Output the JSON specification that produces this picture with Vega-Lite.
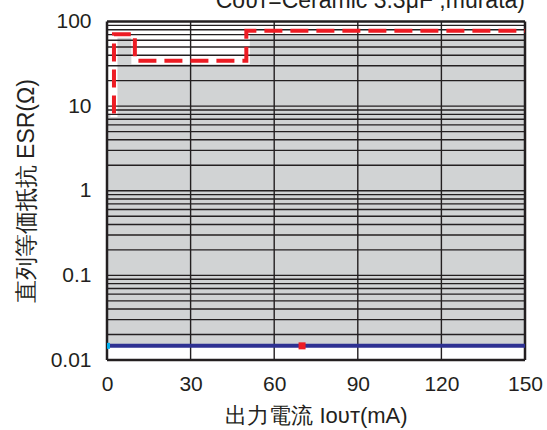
{
  "$schema": "https://vega.github.io/schema/vega-lite/v6.json",
  "width": 418,
  "height": 338.5,
  "autosize": "none",
  "padding": {"left": 107, "top": 21.5, "right": 22, "bottom": 70},
  "background": "white",
  "config": {"view": {"stroke": null}, "font": "Liberation Sans"},
  "title": {
    "text": "Cᴏᴜᴛ=Ceramic 3.3μF ,murata)",
    "anchor": "end",
    "frame": "group",
    "fontSize": 23,
    "fontWeight": "normal",
    "color": "#231f20",
    "baseline": "alphabetic",
    "offset": -20
  },
  "datasets": {
    "region": [
      {"I": 0, "ESR": 8.2, "ESR2": 0.0147},
      {"I": 2.5, "ESR": 70.6, "ESR2": 0.0147},
      {"I": 10, "ESR": 34.4, "ESR2": 0.0147},
      {"I": 50, "ESR": 77.9, "ESR2": 0.0147},
      {"I": 150, "ESR": 77.9, "ESR2": 0.0147}
    ],
    "limit": [
      {"k": 1, "I": 2.5, "ESR": 8.2},
      {"k": 2, "I": 2.5, "ESR": 70.6},
      {"k": 3, "I": 10, "ESR": 70.6},
      {"k": 4, "I": 10, "ESR": 34.4},
      {"k": 5, "I": 50, "ESR": 34.4},
      {"k": 6, "I": 50, "ESR": 77.9},
      {"k": 7, "I": 150, "ESR": 77.9}
    ],
    "hgrid": [
      {"ESR": 0.02}, {"ESR": 0.03}, {"ESR": 0.04}, {"ESR": 0.05}, {"ESR": 0.06}, {"ESR": 0.07}, {"ESR": 0.08}, {"ESR": 0.09},
      {"ESR": 0.1}, {"ESR": 0.2}, {"ESR": 0.3}, {"ESR": 0.4}, {"ESR": 0.5}, {"ESR": 0.6}, {"ESR": 0.7}, {"ESR": 0.8}, {"ESR": 0.9},
      {"ESR": 1}, {"ESR": 2}, {"ESR": 3}, {"ESR": 4}, {"ESR": 5}, {"ESR": 6}, {"ESR": 7}, {"ESR": 8}, {"ESR": 9},
      {"ESR": 10}, {"ESR": 20}, {"ESR": 30}, {"ESR": 40}, {"ESR": 50}, {"ESR": 60}, {"ESR": 70}, {"ESR": 80}, {"ESR": 90}
    ],
    "vgrid": [{"I": 30}, {"I": 60}, {"I": 90}, {"I": 120}],
    "hframe": [{"ESR": 0.01}, {"ESR": 100}],
    "vframe": [{"I": 0}, {"I": 150}],
    "minline": [{"I": 0, "ESR": 0.0147}, {"I": 150, "ESR": 0.0147}],
    "cyan": [{"I": 0, "ESR": 0.0147}],
    "red": [{"I": 70, "ESR": 0.0147}]
  },
  "layer": [
    {
      "data": {"name": "region"},
      "mark": {"type": "area", "interpolate": "step-after", "color": "#d1d3d4"},
      "encoding": {
        "x": {
          "field": "I", "type": "quantitative",
          "scale": {"domain": [0, 150], "nice": false, "zero": false},
          "axis": {
            "values": [0, 30, 60, 90, 120, 150],
            "grid": false, "ticks": false, "domain": false, "labelFlush": false,
            "labelFontSize": 21, "labelPadding": 13, "labelColor": "#231f20",
            "labelFont": "Liberation Sans",
            "title": "出力電流 Iᴏᴜᴛ(mA)",
            "titleFontSize": 22, "titleFontWeight": "normal", "titleColor": "#231f20",
            "titlePadding": 11, "titleFont": "Liberation Sans"
          }
        },
        "y": {
          "field": "ESR", "type": "quantitative",
          "scale": {"type": "log", "domain": [0.01, 100], "nice": false},
          "axis": {
            "values": [0.01, 0.1, 1, 10, 100],
            "format": "~g",
            "grid": false, "ticks": false, "domain": false, "labelFlush": false,
            "labelFontSize": 21, "labelPadding": 16, "labelColor": "#231f20",
            "labelFont": "Liberation Sans",
            "title": "直列等価抵抗 ESR(Ω)",
            "titleFontSize": 23, "titleFontWeight": "normal", "titleColor": "#231f20",
            "titlePadding": 12, "titleFont": "Liberation Sans"
          }
        },
        "y2": {"field": "ESR2"}
      }
    },
    {
      "data": {"name": "limit"},
      "mark": {"type": "line", "color": "white", "strokeWidth": 7, "strokeCap": "square"},
      "encoding": {
        "x": {"field": "I", "type": "quantitative"},
        "y": {"field": "ESR", "type": "quantitative"},
        "order": {"field": "k"}
      }
    },
    {
      "data": {"name": "hgrid"},
      "mark": {"type": "rule", "color": "#231f20", "strokeWidth": 1.4},
      "encoding": {"y": {"field": "ESR", "type": "quantitative"}}
    },
    {
      "data": {"name": "vgrid"},
      "mark": {"type": "rule", "color": "#231f20", "strokeWidth": 1.4},
      "encoding": {"x": {"field": "I", "type": "quantitative"}}
    },
    {
      "data": {"name": "hframe"},
      "mark": {"type": "rule", "color": "#231f20", "strokeWidth": 2.5},
      "encoding": {"y": {"field": "ESR", "type": "quantitative"}}
    },
    {
      "data": {"name": "vframe"},
      "mark": {"type": "rule", "color": "#231f20", "strokeWidth": 2.5},
      "encoding": {"x": {"field": "I", "type": "quantitative"}}
    },
    {
      "data": {"name": "limit"},
      "mark": {"type": "line", "color": "#ed1c24", "strokeWidth": 4, "strokeDash": [18, 8]},
      "encoding": {
        "x": {"field": "I", "type": "quantitative"},
        "y": {"field": "ESR", "type": "quantitative"},
        "order": {"field": "k"}
      }
    },
    {
      "data": {"name": "minline"},
      "mark": {"type": "line", "color": "#2e3192", "strokeWidth": 4},
      "encoding": {
        "x": {"field": "I", "type": "quantitative"},
        "y": {"field": "ESR", "type": "quantitative"}
      }
    },
    {
      "data": {"name": "cyan"},
      "mark": {"type": "square", "color": "#00aeef", "opacity": 1, "size": 36, "clip": true},
      "encoding": {
        "x": {"field": "I", "type": "quantitative"},
        "y": {"field": "ESR", "type": "quantitative"}
      }
    },
    {
      "data": {"name": "red"},
      "mark": {"type": "square", "color": "#ed1c24", "opacity": 1, "size": 49},
      "encoding": {
        "x": {"field": "I", "type": "quantitative"},
        "y": {"field": "ESR", "type": "quantitative"}
      }
    }
  ]
}
